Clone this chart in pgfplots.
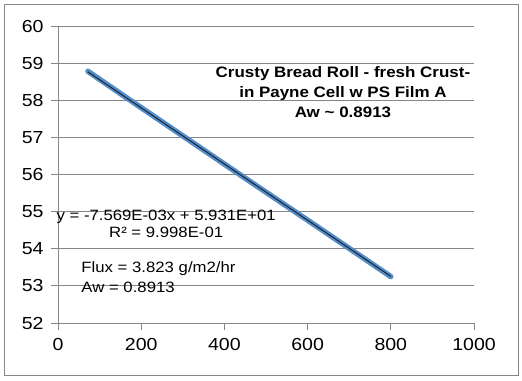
\documentclass[border=0pt]{standalone}
\usepackage{fontspec}
\setmainfont[FakeStretch=1.12]{Liberation Sans}
\usepackage{pgfplots}
\pgfplotsset{compat=1.18}
\definecolor{axgray}{RGB}{134,134,134}
\definecolor{lineblue}{RGB}{84,141,200}
\definecolor{trend}{RGB}{25,35,55}
\begin{document}
\begin{tikzpicture}[x=1bp,y=1bp]
\path (-58,-57) rectangle (464,323);
\draw[axgray,line width=0.8bp] (-54,-52) rectangle (460,319);
\begin{axis}[
  at={(0,0)}, anchor=south west,
  scale only axis, width=416bp, height=297bp,
  xmin=0, xmax=1000, ymin=52, ymax=60,
  xtick={0,200,...,1000}, ytick={52,53,...,60},
  axis x line=bottom, axis y line=left,
  axis line style={axgray, line width=0.8bp, -},
  tick style={axgray, line width=0.8bp},
  tick align=outside, major tick length=7bp,
  ymajorgrids, grid style={axgray, line width=0.8bp},
  ticklabel style={font=\fontsize{17.5}{20}\selectfont, text=black},
  /pgf/number format/assume math mode=true,
  /pgf/number format/1000 sep={},
  yticklabel style={xshift=-4bp},
  xticklabel style={yshift=-5bp},
  clip=false,
]
\addplot[lineblue, line width=5.5bp, line cap=round] coordinates {
  (72,58.78) (150,58.18) (300,57.04) (450,55.90) (600,54.77) (800,53.25)
};
\addplot[trend, line width=1bp] coordinates {(72,58.765) (800,53.255)};
\node[font=\bfseries\fontsize{15.2}{20}\selectfont, align=center] at (axis cs:685,58.22)
  {Crusty Bread Roll - fresh Crust-\\in Payne Cell w PS Film A\\Aw \textasciitilde{} 0.8913};
\node[font=\fontsize{15}{18}\selectfont, align=center] at (axis cs:260,54.67)
  {y = -7.569E-03x + 5.931E+01\\R² = 9.998E-01};
\node[font=\fontsize{15}{20}\selectfont, align=left, anchor=west] at (axis cs:48,53.24)
  {Flux = 3.823 g/m2/hr\\Aw = 0.8913};
\end{axis}
\end{tikzpicture}
\end{document}
